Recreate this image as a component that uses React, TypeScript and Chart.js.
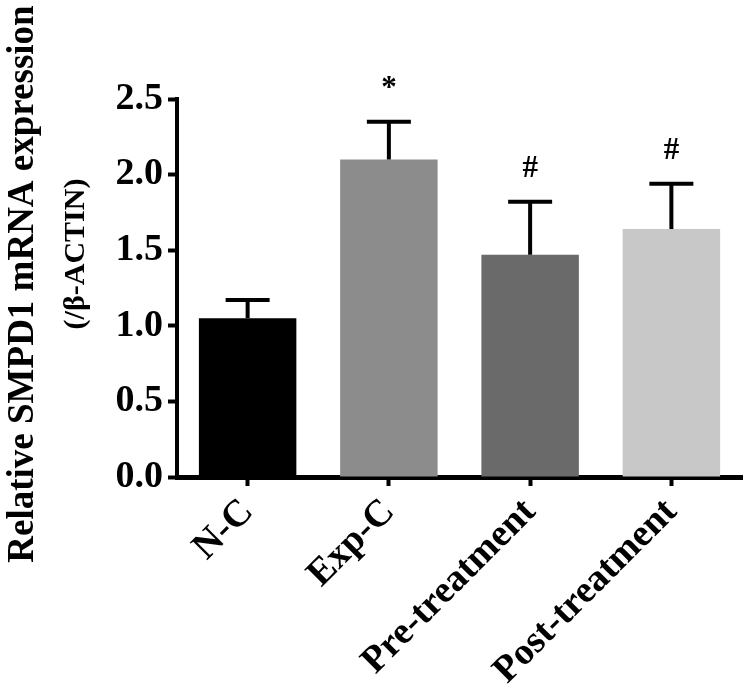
import { useEffect, useRef } from "react";
import { Chart, registerables } from "chart.js";

Chart.register(...registerables);

const categories = ["N-C", "Exp-C", "Pre-treatment", "Post-treatment"];
const means = [1.05, 2.1, 1.47, 1.64];
const errors = [0.12, 0.25, 0.35, 0.3];
const marks = ["", "*", "#", "#"];
const barColors = ["#000000", "#8c8c8c", "#6a6a6a", "#c8c8c8"];
const yTicks = [0, 0.5, 1.0, 1.5, 2.0, 2.5];
const yTitle = ["Relative SMPD1 mRNA expression", "(/β-ACTIN)"];

const SERIF = "'Liberation Serif', 'Times New Roman', serif";

const errorBarPlugin = {
  id: "errorBars",
  afterDatasetsDraw(chart: any) {
    const ctx = chart.ctx;
    const meta = chart.getDatasetMeta(0);
    const yScale = chart.scales.y;
    ctx.save();
    ctx.strokeStyle = "#000";
    ctx.fillStyle = "#000";
    ctx.lineWidth = 4;
    meta.data.forEach((bar: any, i: number) => {
      const x = bar.x;
      const yBase = bar.y;
      const yTop = yScale.getPixelForValue(means[i] + errors[i]);
      ctx.beginPath();
      ctx.moveTo(x, yBase);
      ctx.lineTo(x, yTop);
      ctx.stroke();
      ctx.beginPath();
      ctx.moveTo(x - 22, yTop);
      ctx.lineTo(x + 22, yTop);
      ctx.stroke();
      if (marks[i]) {
        ctx.font = `bold 31px ${SERIF}`;
        ctx.textAlign = "center";
        ctx.textBaseline = "middle";
        ctx.fillText(marks[i], x, yTop - 33);
      }
    });
    ctx.restore();
  },
};

const yTitlePlugin = {
  id: "yTitle",
  afterDraw(chart: any) {
    const ctx = chart.ctx;
    const area = chart.chartArea;
    const cy = (area.top + area.bottom) / 2;
    ctx.save();
    ctx.fillStyle = "#000";
    ctx.textAlign = "center";
    ctx.textBaseline = "alphabetic";
    ctx.save();
    ctx.translate(33, cy - 4);
    ctx.rotate(-Math.PI / 2);
    ctx.font = `bold 37px ${SERIF}`;
    ctx.fillText(yTitle[0], 0, 0);
    ctx.restore();
    ctx.save();
    ctx.translate(84, cy - 34);
    ctx.rotate(-Math.PI / 2);
    ctx.font = `bold 30px ${SERIF}`;
    ctx.fillText(yTitle[1], 0, 0);
    ctx.restore();
    ctx.restore();
  },
};

export default function App() {
  const canvasRef = useRef<HTMLCanvasElement | null>(null);

  useEffect(() => {
    const canvas = canvasRef.current;
    if (!canvas) return;
    const chart = new Chart(canvas, {
      type: "bar",
      data: {
        labels: categories,
        datasets: [
          {
            data: means,
            backgroundColor: barColors,
            borderWidth: 0,
            barPercentage: 0.69,
            categoryPercentage: 1,
          },
        ],
      },
      options: {
        responsive: false,
        animation: false,
        layout: { padding: { top: 99, right: 8, left: 0, bottom: 0 } },
        plugins: {
          legend: { display: false },
          tooltip: { enabled: false },
        },
        scales: {
          x: {
            afterFit: (s: any) => {
              s.height = 691 - 477;
            },
            ticks: {
              font: { family: SERIF, size: 38, weight: "bold" },
              color: "#000",
              minRotation: 45,
              maxRotation: 45,
              padding: 4,
            },
            grid: {
              display: true,
              offset: false,
              drawOnChartArea: false,
              drawTicks: true,
              tickLength: 9,
              tickWidth: 4,
              tickColor: "#000",
            },
            border: { display: true, width: 5, color: "#000" },
          },
          y: {
            min: 0,
            max: 2.5,
            afterFit: (s: any) => {
              s.width = 177;
            },
            afterBuildTicks: (s: any) => {
              s.ticks = yTicks.map((v) => ({ value: v }));
            },
            ticks: {
              font: { family: SERIF, size: 38, weight: "bold" },
              color: "#000",
              padding: 5,
              callback: (v: any) => Number(v).toFixed(1),
            },
            grid: {
              display: true,
              drawOnChartArea: false,
              drawTicks: true,
              tickLength: 9,
              tickWidth: 4,
              tickColor: "#000",
            },
            border: { display: true, width: 4, color: "#000" },
          },
        },
      },
      plugins: [errorBarPlugin, yTitlePlugin],
    });
    return () => chart.destroy();
  }, []);

  return (
    <div style={{ position: "fixed", left: 0, top: 0, width: 750, height: 691, background: "#fff" }}>
      <canvas ref={canvasRef} width={750} height={691} style={{ width: 750, height: 691 }} />
    </div>
  );
}
